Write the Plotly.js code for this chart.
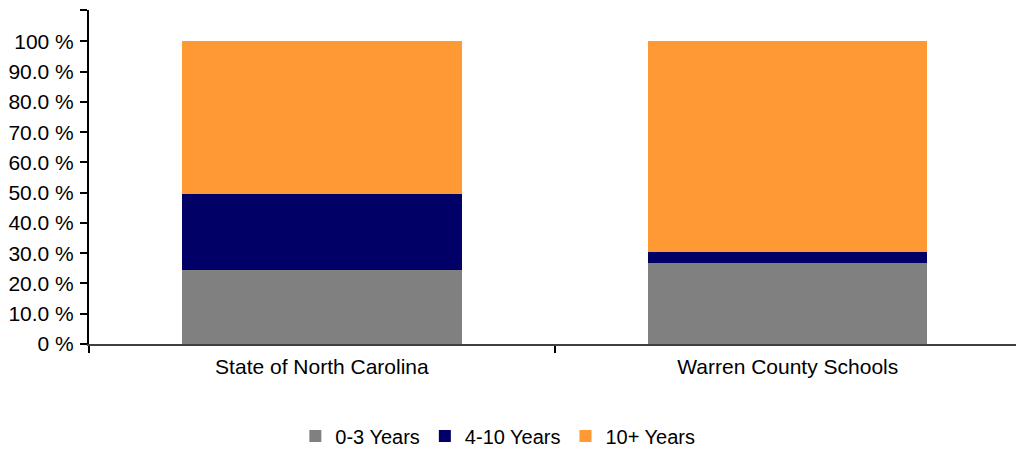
<!DOCTYPE html>
<html>
<head>
<meta charset="utf-8">
<script src="https://cdn.plot.ly/plotly-3.0.1.min.js"></script>
<style>html,body{margin:0;padding:0;background:#fff;}#chart{width:1016px;height:450px;}</style>
</head>
<body>
<div id="chart"></div>
<script>
var categories = ["State of North Carolina", "Warren County Schools"];
var years0to3 = [24.3, 26.9];
var years4to10 = [25.4, 3.6];
var years10plus = [50.3, 69.5];
var seriesNames = ["0-3 Years", "4-10 Years", "10+ Years"];
var seriesColors = ["#808080", "#000066", "#FF9933"];
var yTickVals = [0, 10, 20, 30, 40, 50, 60, 70, 80, 90, 100, 110.4];
var yTickText = ["0 %", "10.0 %", "20.0 %", "30.0 %", "40.0 %", "50.0 %", "60.0 %", "70.0 %", "80.0 %", "90.0 %", "100 %", ""];

var series = [years0to3, years4to10, years10plus];
var traces = series.map(function (vals, i) {
  return {
    type: "bar",
    x: categories,
    y: vals,
    name: seriesNames[i],
    marker: { color: seriesColors[i], line: { width: 0 } },
    width: 0.6,
    hoverinfo: "skip"
  };
});

var layout = {
  width: 1016,
  height: 450,
  barmode: "stack",
  paper_bgcolor: "#fff",
  plot_bgcolor: "#fff",
  font: { family: "Liberation Sans, Arial, sans-serif", size: 21, color: "#000" },
  margin: { l: 89, r: 0, t: 10, b: 106, pad: 0 },
  showlegend: true,
  legend: {
    orientation: "h",
    xref: "container",
    yref: "container",
    x: 0.490,
    xanchor: "center",
    y: 0.031,
    yanchor: "middle",
    font: { size: 20 },
    traceorder: "normal",
    itemwidth: 30
  },
  xaxis: {
    type: "category",
    range: [-0.5, 1.49],
    tickson: "boundaries",
    ticks: "outside",
    ticklen: 7,
    tickwidth: 2,
    tickcolor: "#000",
    showline: true,
    linecolor: "#404040",
    linewidth: 2,
    showgrid: false,
    zeroline: false,
    ticklabelstandoff: 3,
    fixedrange: true
  },
  yaxis: {
    range: [0, 110.4],
    tickmode: "array",
    tickvals: yTickVals,
    ticktext: yTickText,
    ticks: "outside",
    ticklen: 7,
    tickwidth: 2,
    tickcolor: "#000",
    showline: true,
    linecolor: "#000",
    linewidth: 2,
    showgrid: false,
    zeroline: false,
    ticklabelstandoff: 2,
    fixedrange: true
  }
};

Plotly.newPlot("chart", traces, layout, { displayModeBar: false, staticPlot: true });
</script>
</body>
</html>
